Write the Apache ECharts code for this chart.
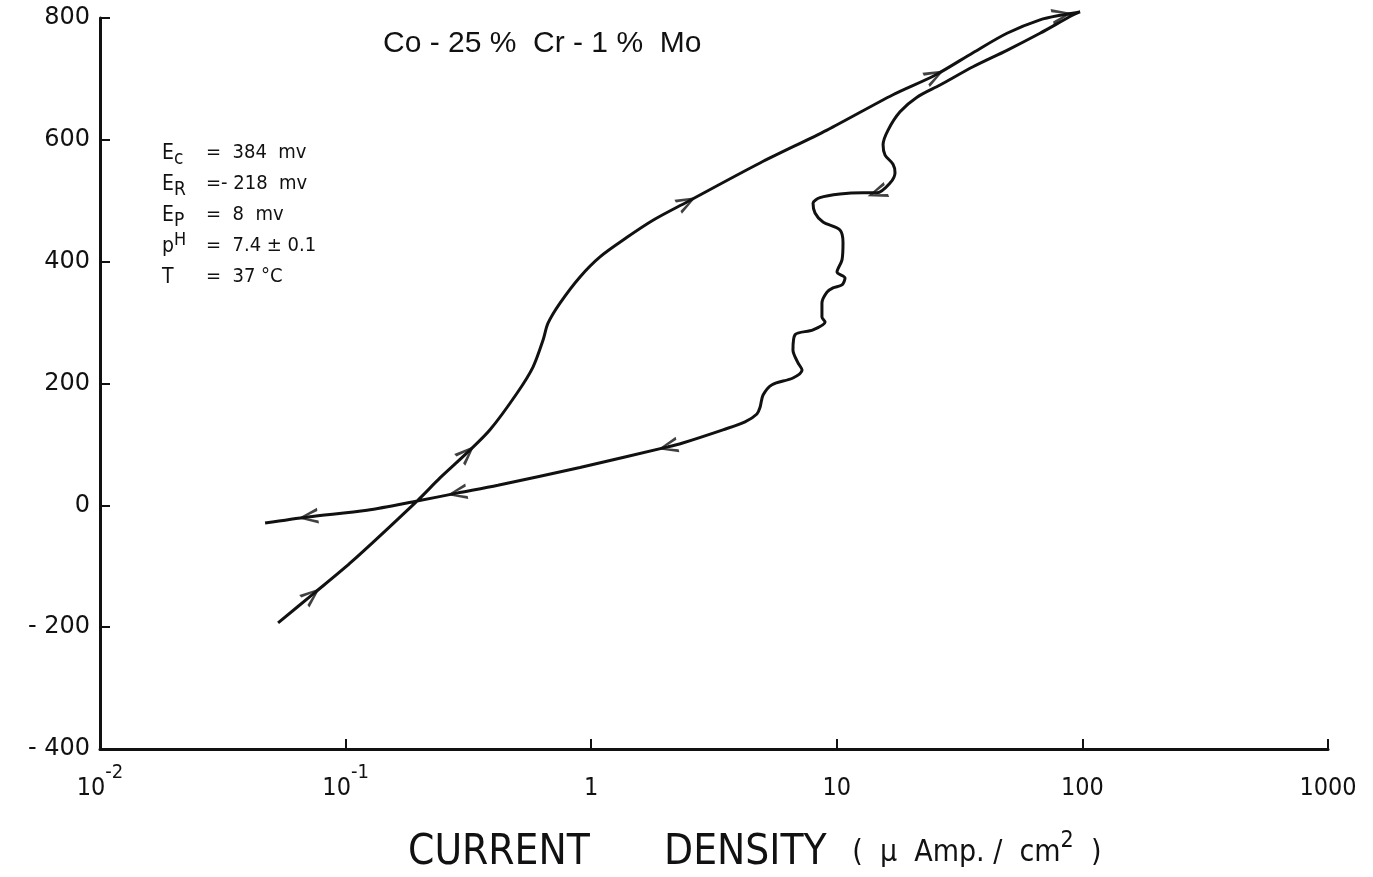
<!DOCTYPE html>
<html><head><meta charset="utf-8">
<script src="https://cdn.jsdelivr.net/npm/echarts@6/dist/echarts.min.js"></script>
<style>html,body{margin:0;padding:0;background:#fff}#c{width:1373px;height:877px}</style>
</head><body><div id="c"></div>
<script>
// Anodic (forward) scan: current density (µA/cm²) and potential (mV)
const forwardI = [0.0531, 0.0730, 0.1042, 0.1953, 0.2423, 0.3120, 0.3872, 0.4986, 0.5794, 0.6364, 0.6670, 0.7464, 0.9003, 1.086, 1.399, 1.785, 2.455, 4.867, 9.123, 16.94, 25.10, 35.86, 49.32, 67.2, 82.6, 97.8];
const forwardE = [-193, -147, -95, 7, 45, 86, 124, 184, 227, 271, 299, 332, 375, 408, 440, 468, 498, 562, 616, 674, 706, 743, 775, 797, 805, 810];
// Reverse scan
const reverseI = [91.5, 67.2, 49.3, 35.86, 26.32, 21.21, 18.09, 16.17, 15.43, 15.72, 16.94, 17.26, 16.47, 14.58, 12.79, 10.30, 8.544, 8.002, 8.153, 8.786, 10.30, 10.60, 10.50, 10.02, 10.80, 10.50, 9.65, 9.12, 8.70, 8.70, 8.96, 8.00, 6.76, 6.63, 6.95, 7.22, 6.63, 5.45, 5.01, 4.87, 4.73, 4.23, 3.44, 2.34, 2.05, 0.900, 0.417, 0.284, 0.1953, 0.1222, 0.0703, 0.0470];
const reverseE = [805, 775, 747, 720, 690, 670, 646, 616, 592, 575, 560, 546, 529, 513, 513, 511, 505, 496, 480, 465, 452, 431, 403, 383, 373, 362, 357, 350, 332, 309, 301, 288, 280, 255, 234, 222, 209, 198, 181, 161, 150, 137, 124, 102, 96, 62, 33, 20, 7, -8, -19, -29];
// Indices (in the joined curve) where direction arrows are drawn
const arrowIdx = [1, 5, 16, 20, 24, 39, 70, 73, 76];
// Tick labels
const xTickBase = ['10', '10', '1', '10', '100', '1000'];
const xTickExp = ['-2', '-1', '', '', '', ''];
const yTicks = [-400, -200, 0, 200, 400, 600, 800];

const titleText = 'Co - 25 %  Cr - 1 %  Mo';
const infoLabels = ['{n|E}{sb|c}', '{n|E}{sb|R}', '{n|E}{sb|P}', '{n|p}{sp|H}', '{n|T}'];
const infoValues = ['=  384  mv', '=- 218  mv', '=  8  mv', '=  7.4 ± 0.1', '=  37 °C'];

const curve = forwardI.map((x, i) => [x, forwardE[i]])
  .concat(reverseI.map((x, i) => [x, reverseE[i]]));

const condensed = '"Liberation Sans Narrow","DejaVu Sans Condensed",Roboto,sans-serif';
const ink = '#111';
const arrowPath = 'path://M0,0L10,5L0,10L0,8L7.2,5L0,2Z';

const chart = echarts.init(document.getElementById('c'));
const option = {
  animation: false,
  backgroundColor: '#fff',
  grid: { left: 100, right: 45, top: 18, bottom: 128 },
  xAxis: {
    type: 'log', logBase: 10, min: 0.01, max: 1000,
    axisLine: { onZero: false, lineStyle: { color: ink, width: 3 } },
    axisTick: { inside: true, length: 10, lineStyle: { color: ink, width: 2 } },
    minorTick: { show: false },
    splitLine: { show: false },
    axisLabel: {
      margin: 14, color: ink, fontFamily: condensed, fontSize: 25,
      formatter: v => {
        const k = Math.round(Math.log10(v)) + 2;
        if (k < 0 || k >= xTickBase.length) return '';
        return xTickExp[k] ? '{b|' + xTickBase[k] + '}{s|' + xTickExp[k] + '}' : '{b|' + xTickBase[k] + '}';
      },
      rich: {
        b: { fontFamily: condensed, fontSize: 25, lineHeight: 38, color: ink, verticalAlign: 'bottom' },
        s: { fontFamily: condensed, fontSize: 20, lineHeight: 20, color: ink, verticalAlign: 'top' }
      }
    }
  },
  yAxis: {
    type: 'value', min: yTicks[0], max: yTicks[yTicks.length - 1], interval: 200,
    axisLine: { show: true, onZero: false, lineStyle: { color: ink, width: 3 } },
    axisTick: { show: true, inside: true, length: 10, lineStyle: { color: ink, width: 2 } },
    splitLine: { show: false },
    axisLabel: {
      margin: 10, color: ink, fontFamily: '"DejaVu Sans",sans-serif', fontSize: 24,
      formatter: v => v < 0 ? '- ' + (-v) : String(v)
    }
  },
  graphic: [
    { type: 'text', left: 383, top: 29, style: { text: titleText, font: '30px "Liberation Sans", sans-serif', fill: ink } },
    { type: 'text', left: 162, top: 143, style: {
        text: infoLabels.join('\n'), fill: ink,
        rich: {
          n: { fontSize: 21, lineHeight: 31, fontFamily: condensed, fill: ink },
          sb: { fontSize: 19, lineHeight: 16, fontFamily: condensed, fill: ink, verticalAlign: 'bottom' },
          sp: { fontSize: 18, lineHeight: 16, fontFamily: condensed, fill: ink, verticalAlign: 'top' }
        } } },
    { type: 'text', left: 206, top: 143, style: {
        text: infoValues.map(s => '{n|' + s + '}').join('\n'), fill: ink,
        rich: { n: { fontSize: 20, lineHeight: 31, fontFamily: condensed, fill: ink } } } },
    { type: 'text', left: 408, top: 830, style: {
        text: '{a|CURRENT}{g|          }{a|DENSITY}{b|   (  μ  Amp. /  cm}{c|2}{b|  )}', fill: ink,
        rich: {
          a: { fontSize: 42, fontFamily: condensed, fill: ink, lineHeight: 46 },
          g: { fontSize: 26, fontFamily: condensed, fill: ink },
          b: { fontSize: 30, fontFamily: condensed, fill: ink, lineHeight: 46 },
          c: { fontSize: 23, fontFamily: condensed, fill: ink, lineHeight: 32, verticalAlign: 'top' }
        } } }
  ],
  series: [
    { type: 'line', data: curve, showSymbol: false, smooth: 0.3, clip: false,
      lineStyle: { color: ink, width: 3 } },
    { type: 'scatter', data: [], symbol: arrowPath, symbolSize: [20, 16], clip: false,
      itemStyle: { color: ink } }
  ]
};
chart.setOption(option);

// orient arrows along the curve, using the chart's own coordinate conversion
const arrows = arrowIdx.map(i => {
  const a = chart.convertToPixel({ seriesIndex: 0 }, curve[Math.max(i - 1, 0)]);
  const b = chart.convertToPixel({ seriesIndex: 0 }, curve[Math.min(i + 1, curve.length - 1)]);
  const ang = Math.atan2(-(b[1] - a[1]), b[0] - a[0]) * 180 / Math.PI;
  return { value: curve[i], symbolRotate: ang };
});
chart.setOption({ series: [{}, { data: arrows }] });
</script></body></html>
